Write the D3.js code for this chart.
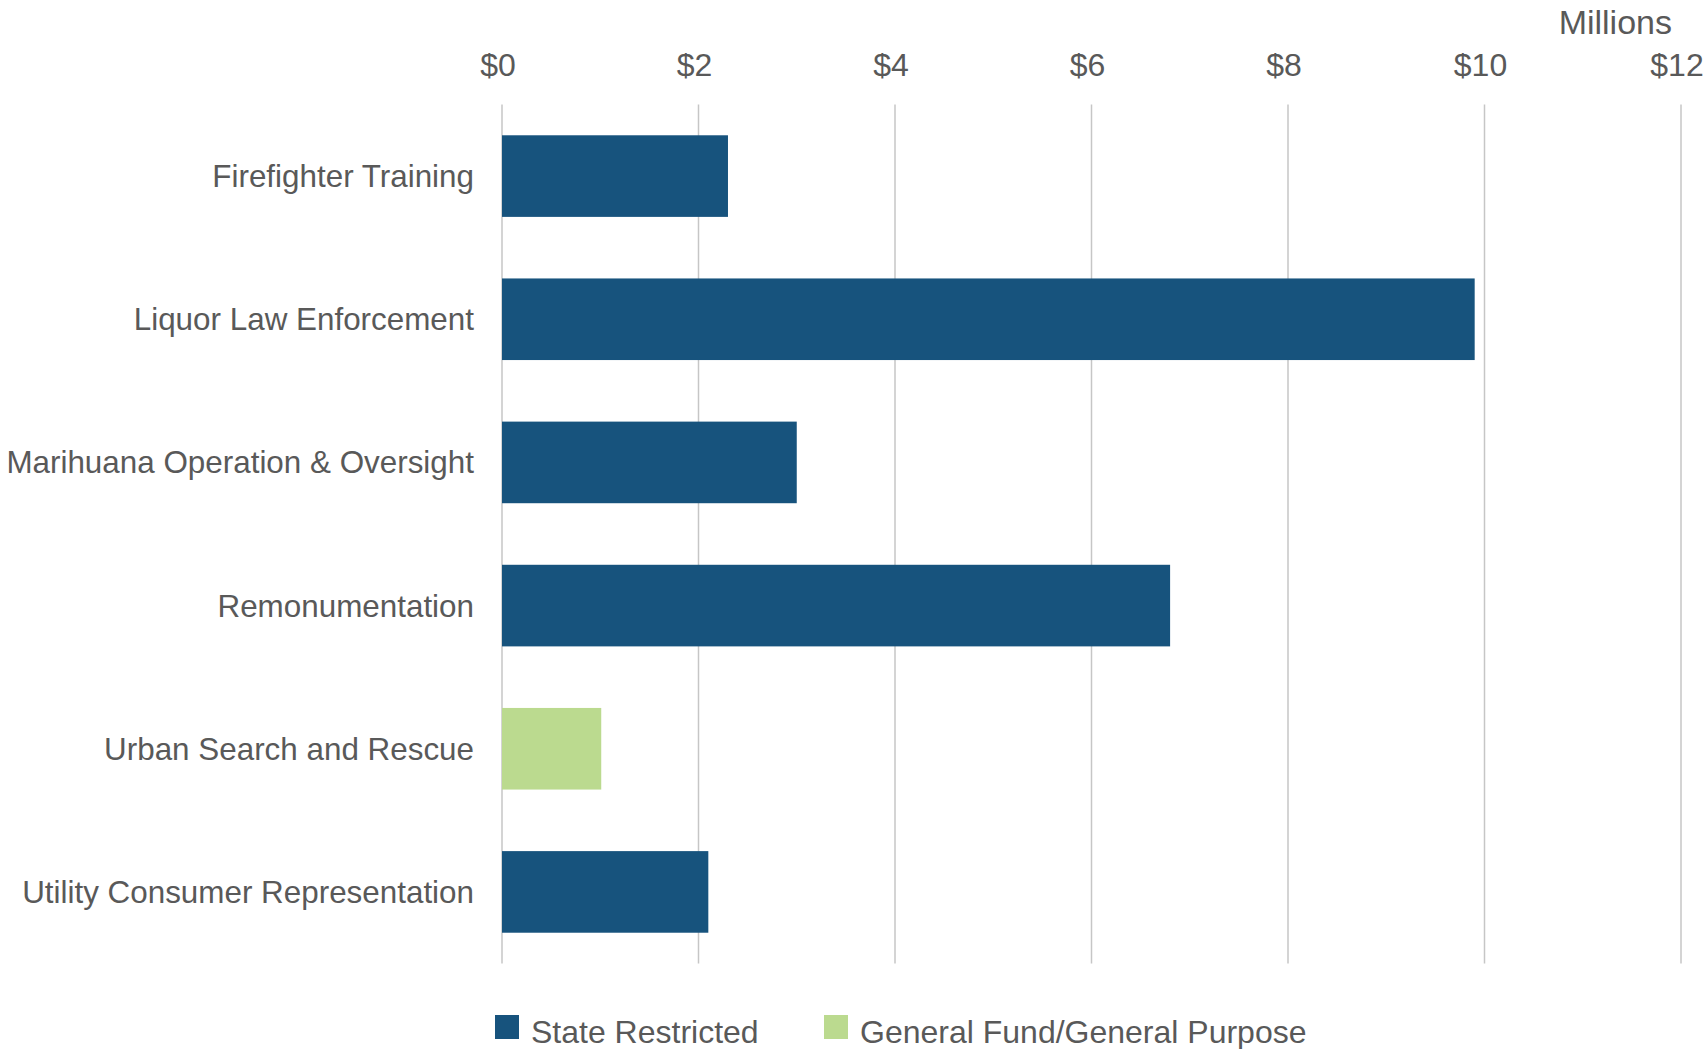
<!DOCTYPE html>
<html lang="en">
<head>
    <meta charset="UTF-8">
    <title>Program Funding</title>
    <script src="https://d3js.org/d3.v7.min.js"></script>
    <style>
        body { margin: 0; background: #fff; }
        text { font-family: "Liberation Sans", Arial, sans-serif; fill: #595959; }
    </style>
</head>
<body>
    <div id="chart"></div>
    <script>
        // Data (millions of dollars)
        const programs = ["Firefighter Training", "Liquor Law Enforcement", "Marihuana Operation & Oversight",
                          "Remonumentation", "Urban Search and Rescue", "Utility Consumer Representation"];
        const amounts = [2.30, 9.90, 3.00, 6.80, 1.01, 2.10];
        const fundSource = ["State Restricted", "State Restricted", "State Restricted",
                            "State Restricted", "General Fund/General Purpose", "State Restricted"];
        const sources = ["State Restricted", "General Fund/General Purpose"];
        const xTicks = [0, 2, 4, 6, 8, 10, 12];

        const width = 1706, height = 1049;
        const fontSize = 32;

        const svg = d3.select("#chart").append("svg").attr("width", width).attr("height", height);

        const x = d3.scaleLinear().domain([0, 12]).range([502, 1681]);
        const y = d3.scaleBand().domain(programs).range([104.5, 963.5]).paddingInner(0.43).paddingOuter(0.215);
        const color = d3.scaleOrdinal().domain(sources).range(["#17537d", "#bbda8f"]);

        // Gridlines
        svg.append("g")
            .selectAll("line")
            .data(xTicks)
            .enter()
            .append("line")
            .attr("x1", d => x(d)).attr("x2", d => x(d))
            .attr("y1", 104.5).attr("y2", 963.5)
            .attr("stroke", "#c6c6c6")
            .attr("stroke-width", 1.5);

        // Tick labels on top
        svg.append("g")
            .selectAll("text")
            .data(xTicks)
            .enter()
            .append("text")
            .attr("x", d => x(d) - 4)
            .attr("y", 76)
            .attr("text-anchor", "middle")
            .style("font-size", fontSize + "px")
            .text(d => "$" + d);

        svg.append("text")
            .attr("x", 1672).attr("y", 33.5)
            .attr("text-anchor", "end")
            .style("font-size", "34px")
            .text("Millions");

        // Bars
        svg.append("g")
            .selectAll("rect")
            .data(programs)
            .enter()
            .append("rect")
            .attr("x", x(0))
            .attr("y", d => y(d))
            .attr("width", (d, i) => x(amounts[i]) - x(0))
            .attr("height", y.bandwidth())
            .attr("fill", (d, i) => color(fundSource[i]));

        // Category labels (slightly smaller so the longest one fits)
        svg.append("g")
            .selectAll("text")
            .data(programs)
            .enter()
            .append("text")
            .attr("x", 474)
            .attr("y", d => y(d) + y.bandwidth() / 2)
            .attr("dy", "0.35em")
            .attr("text-anchor", "end")
            .style("font-size", "31.4px")
            .text(d => d);

        // Legend
        const legendX = [495, 824];
        const legend = svg.append("g")
            .selectAll("g")
            .data(sources)
            .enter()
            .append("g")
            .attr("transform", (d, i) => `translate(${legendX[i]},1015)`);
        legend.append("rect").attr("width", 24).attr("height", 24).attr("fill", d => color(d));
        legend.append("text")
            .attr("x", 36).attr("y", 17).attr("dy", "0.35em")
            .style("font-size", fontSize + "px")
            .text(d => d);
    </script>
</body>
</html>
